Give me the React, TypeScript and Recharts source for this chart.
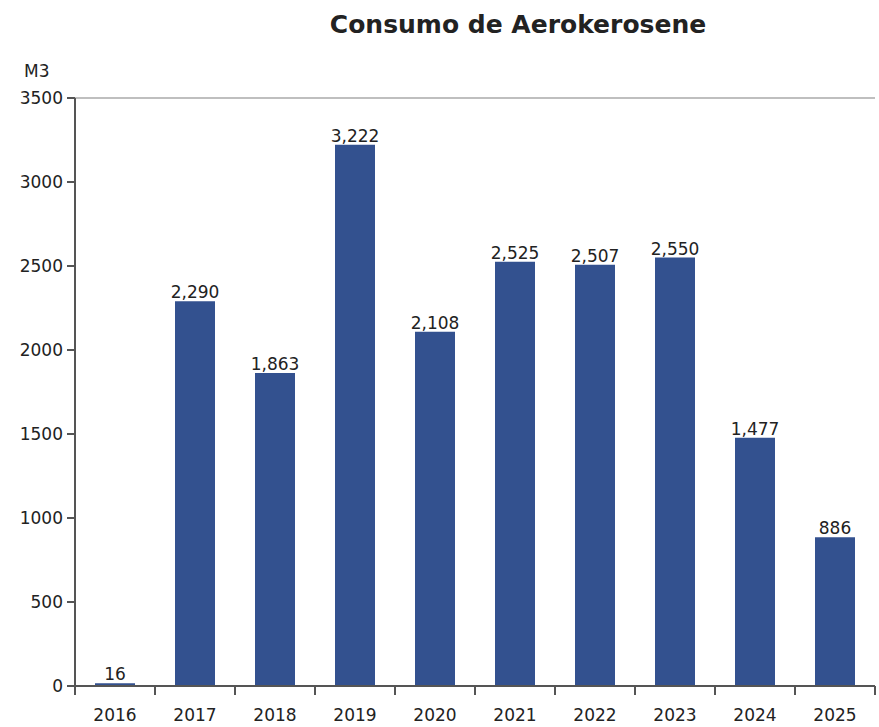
import { Bar, BarChart, LabelList, ReferenceLine, XAxis, YAxis } from 'recharts';

const years = ['2016', '2017', '2018', '2019', '2020', '2021', '2022', '2023', '2024', '2025'];
const consumo = [16, 2290, 1863, 3222, 2108, 2525, 2507, 2550, 1477, 886];
const yTicks = [0, 500, 1000, 1500, 2000, 2500, 3000, 3500];

const data = years.map((year, i) => ({ year, consumo: consumo[i] }));

const FONT = '"DejaVu Sans", Verdana, sans-serif';
const AXIS = '#555';

function YearTick(props: any) {
  const { x, y, payload, index } = props;
  const half = 40;
  const axisY = y - 8;
  const last = index === years.length - 1;
  return (
    <g>
      <line x1={x - half} x2={x - half} y1={axisY} y2={axisY + 9} stroke={AXIS} strokeWidth={2} />
      {last && <line x1={x + half} x2={x + half} y1={axisY} y2={axisY + 9} stroke={AXIS} strokeWidth={2} />}
      <text x={x} y={axisY + 35} textAnchor="middle" fontSize={17} fill="#222" fontFamily={FONT}>
        {payload.value}
      </text>
    </g>
  );
}

export default function App() {
  return (
    <div style={{ position: 'absolute', left: 0, top: 0, width: 879, height: 727, background: '#fff', fontFamily: FONT }}>
      <div style={{ position: 'absolute', left: 518, top: 10, transform: 'translateX(-50%)', fontSize: 25, fontWeight: 'bold', color: '#222', whiteSpace: 'nowrap' }}>
        Consumo de Aerokerosene
      </div>
      <div style={{ position: 'absolute', left: 24, top: 61, fontSize: 17, color: '#222' }}>M3</div>
      <BarChart
        width={879}
        height={727}
        data={data}
        margin={{ top: 98, right: 4, bottom: 0, left: 15 }}
        barCategoryGap="25%"
      >
        <XAxis
          dataKey="year"
          tick={<YearTick />}
          tickLine={false}
          axisLine={{ stroke: AXIS, strokeWidth: 2 }}
          height={41}
          interval={0}
        />
        <YAxis
          yAxisId="left"
          domain={[0, 3500]}
          ticks={yTicks}
          width={60}
          tickSize={8}
          tickMargin={4}
          axisLine={{ stroke: AXIS, strokeWidth: 2 }}
          tickLine={{ stroke: AXIS, strokeWidth: 2 }}
          tick={{ fontSize: 17, fill: '#222', fontFamily: FONT }}
        />
        <YAxis
          yAxisId="right"
          orientation="right"
          domain={[0, 3500]}
          width={0}
          tick={false}
          tickLine={false}
          axisLine={{ stroke: '#aaa', strokeWidth: 1.5 }}
        />
        <ReferenceLine yAxisId="left" y={3500} stroke="#aaa" strokeWidth={1.5} />
        <Bar yAxisId="left" dataKey="consumo" fill="#33518f" isAnimationActive={false}>
          <LabelList
            dataKey="consumo"
            position="top"
            offset={3}
            fontSize={17}
            fill="#222"
            fontFamily={FONT}
            formatter={(v: any) => Number(v).toLocaleString('en-US')}
          />
        </Bar>
      </BarChart>
    </div>
  );
}
